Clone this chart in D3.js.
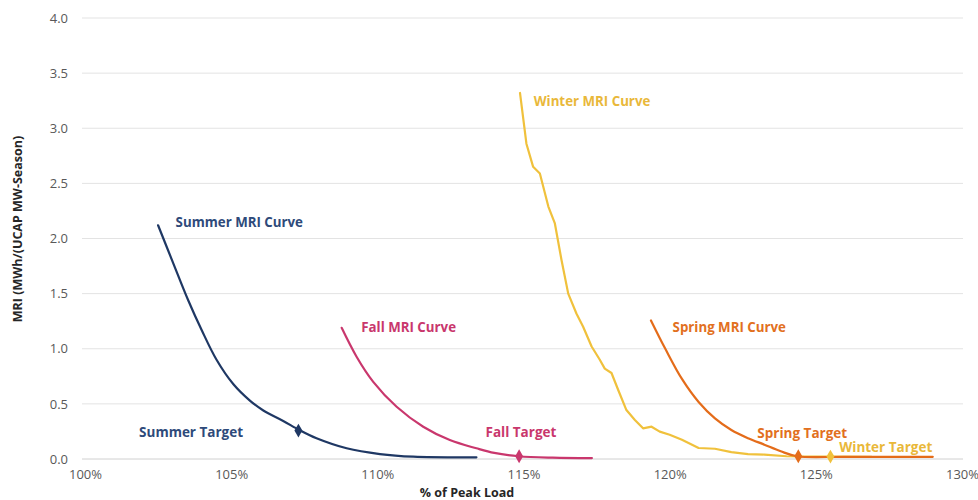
<!DOCTYPE html>
<html><head><meta charset="utf-8">
<script src="https://cdn.jsdelivr.net/npm/d3@7"></script>
<style>body{margin:0;background:#fff;} svg{display:block;}</style>
</head><body>
<div id="chart"></div>
<script>
const xTicks = [100,105,110,115,120,125,130];
const xTickLabels = ["100%","105%","110%","115%","120%","125%","130%"];
const yTicks = [0,0.5,1,1.5,2,2.5,3,3.5,4];
const yTickLabels = ["0.0","0.5","1.0","1.5","2.0","2.5","3.0","3.5","4.0"];

const seriesNames = ["Summer","Fall","Winter","Spring"];
const seriesColors = ["#1f3864","#c9376d","#f0c13c","#e46c1a"];
const labelColors = ["#2e4a7a","#c9376d","#e9b83a","#e2701e"];

const summerX = [102.5,103.02,103.53,103.99,104.5,105.07,105.64,106.1,106.78,107.35,107.92,108.95,110.09,111.23,113.39];
const summerY = [2.12,1.775,1.44,1.17,0.9,0.68,0.53,0.44,0.345,0.26,0.188,0.097,0.045,0.021,0.015];

const fallX = [108.78,109.29,109.86,110.66,111.57,112.48,113.39,114.0,114.84,116.0,117.34];
const fallY = [1.19,0.928,0.70,0.474,0.293,0.172,0.097,0.055,0.025,0.012,0.008];

const winterX = [114.88,115.10,115.33,115.56,115.85,116.07,116.30,116.53,116.81,117.04,117.33,117.61,117.78,118.01,118.24,118.52,118.81,119.09,119.38,119.66,120.0,120.42,120.99,121.55,122.11,122.68,123.24,124.0,125.5,126.9];
const winterY = [3.32,2.86,2.65,2.59,2.29,2.14,1.805,1.50,1.32,1.20,1.02,0.90,0.82,0.78,0.626,0.444,0.354,0.278,0.293,0.248,0.22,0.174,0.10,0.093,0.063,0.045,0.04,0.025,0.022,0.02];

const springX = [119.36,119.86,120.42,120.99,121.55,122.11,122.68,123.24,123.8,124.36,126.0,129.0];
const springY = [1.257,0.995,0.726,0.517,0.368,0.263,0.189,0.13,0.07,0.025,0.02,0.02];

const targetX = [107.3,114.85,125.5,124.4];
const targetY = [0.258,0.025,0.022,0.025];

const curveLabels = ["Summer MRI Curve","Fall MRI Curve","Winter MRI Curve","Spring MRI Curve"];
const curveLabelX = [103.1,109.45,115.35,120.1];
const curveLabelY = [2.10,1.15,3.20,1.15];
const targetLabels = ["Summer Target","Fall Target","Winter Target","Spring Target"];
const targetLabelX = [101.85,113.7,125.8,123.0];
const targetLabelY = [0.20,0.20,0.065,0.19];

const W = 978, H = 500;
const svg = d3.select("#chart").append("svg").attr("width",W).attr("height",H);
const x = d3.scaleLinear().domain([100,130]).range([85,962]);
const y = d3.scaleLinear().domain([0,4]).range([459,18]);

// grid
svg.append("g").selectAll("line").data(yTicks).join("line")
  .attr("x1",82).attr("x2",963)
  .attr("y1",d=>y(d)).attr("y2",d=>y(d))
  .attr("stroke",d=>d===0?"#d0d0d0":"#e3e3e3").attr("stroke-width",1);

// y axis labels
const yAxis = d3.axisLeft(y).tickValues(yTicks).tickSize(0).tickPadding(0)
  .tickFormat((d,i)=>yTickLabels[i]);
const gy = svg.append("g").attr("transform","translate(68,0)").call(yAxis);
gy.select(".domain").remove();
gy.selectAll("text").attr("font-family","'Open Sans', sans-serif").attr("font-size",13).attr("fill","#595959");

// x axis labels
const xAxis = d3.axisBottom(x).tickValues(xTicks).tickSize(0).tickPadding(0)
  .tickFormat((d,i)=>xTickLabels[i]);
const gx = svg.append("g").attr("transform","translate(0,470)").call(xAxis);
gx.select(".domain").remove();
gx.selectAll("text").attr("font-family","'Open Sans', sans-serif").attr("font-size",13).attr("fill","#595959");

// axis titles
svg.append("text").attr("x",467).attr("y",497).attr("text-anchor","middle")
  .attr("font-family","'Open Sans', sans-serif").attr("font-weight",700).attr("font-size",12.5)
  .attr("fill","#262626").text("% of Peak Load");
svg.append("text").attr("transform","translate(22,229) rotate(-90)").attr("text-anchor","middle")
  .attr("font-family","'Open Sans', sans-serif").attr("font-weight",700).attr("font-size",12.5)
  .attr("fill","#262626").text("MRI (MWh/(UCAP MW-Season)");

const seriesData = [
  summerX.map((v,i)=>[v,summerY[i]]),
  fallX.map((v,i)=>[v,fallY[i]]),
  winterX.map((v,i)=>[v,winterY[i]]),
  springX.map((v,i)=>[v,springY[i]])
];
const smooth = d3.line().x(d=>x(d[0])).y(d=>y(d[1])).curve(d3.curveCatmullRom.alpha(0.5));
const jagged = d3.line().x(d=>x(d[0])).y(d=>y(d[1])).curve(d3.curveLinear);
[0,1,2,3].forEach(i=>{
  svg.append("path").datum(seriesData[i]).attr("d",i===2?jagged:smooth)
    .attr("fill","none").attr("stroke",seriesColors[i]).attr("stroke-width",2.2)
    .attr("stroke-linejoin","round").attr("stroke-linecap","round");
});

// target diamonds
svg.append("g").selectAll("path").data(targetX).join("path")
  .attr("d",d3.symbol().type(d3.symbolDiamond).size(55))
  .attr("transform",(d,i)=>`translate(${x(d)},${y(targetY[i])})`)
  .attr("fill",(d,i)=>seriesColors[i]);

const lblFont = "'Open Sans', sans-serif";
svg.append("g").selectAll("text").data(curveLabels).join("text")
  .attr("x",(d,i)=>x(curveLabelX[i])).attr("y",(d,i)=>y(curveLabelY[i]))
  .attr("font-family",lblFont).attr("font-weight",700).attr("font-size",13.3)
  .attr("fill",(d,i)=>labelColors[i]).text(d=>d);
svg.append("g").selectAll("text").data(targetLabels).join("text")
  .attr("x",(d,i)=>x(targetLabelX[i])).attr("y",(d,i)=>y(targetLabelY[i]))
  .attr("font-family",lblFont).attr("font-weight",700).attr("font-size",13.5)
  .attr("fill",(d,i)=>labelColors[i]).text(d=>d);
</script>
</body></html>
